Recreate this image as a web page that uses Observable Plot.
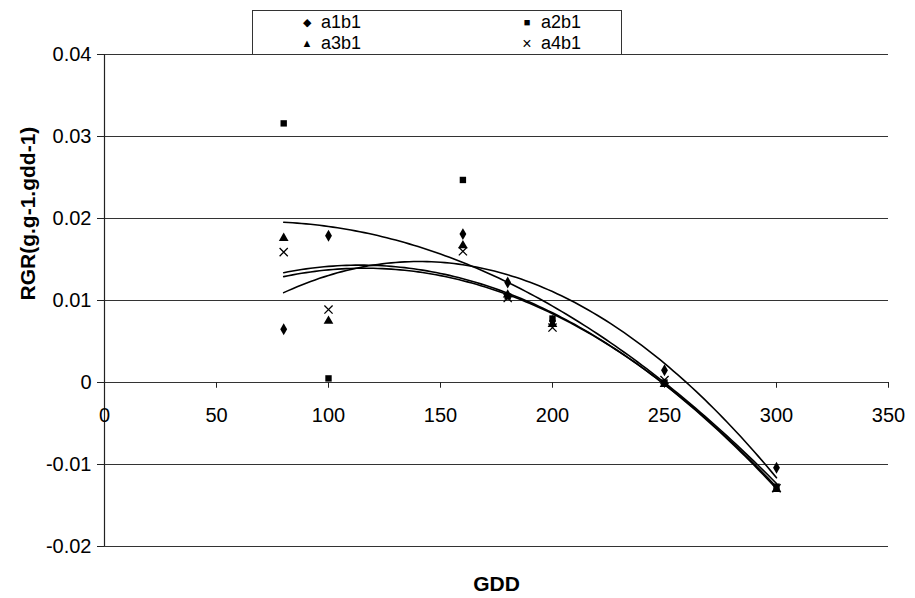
<!DOCTYPE html>
<html>
<head>
<meta charset="utf-8">
<script src="https://cdn.jsdelivr.net/npm/d3@7"></script>
<script src="https://cdn.jsdelivr.net/npm/@observablehq/plot@0.6"></script>
<style>
  html, body { margin: 0; padding: 0; background: #fff; }
  #wrap { position: relative; width: 915px; height: 598px; font-family: "Liberation Sans", Arial, sans-serif; }
  #legend { position: absolute; left: 252px; top: 10px; width: 370px; height: 45px; border: 1px solid #333; background: #fff; overflow: hidden; z-index: 2; box-sizing: border-box; }
  .item { position: absolute; font-size: 18px; line-height: 20px; height: 20px; color: #000; white-space: nowrap; }
  .sym { display: inline-block; width: 14px; text-align: center; font-size: 11px; margin-right: 7px; vertical-align: 2px; }
  svg { position: absolute; left: 0; top: 0; }
</style>
</head>
<body>
<div id="wrap"></div>
<script>
// Data
const gdd = [80, 100, 160, 180, 200, 250, 300];
const seriesNames = ["a1b1", "a2b1", "a3b1", "a4b1"];
const a1b1 = [0.0065, 0.0179, 0.0181, 0.0122, 0.0075, 0.0015, -0.0104];
const a2b1 = [0.0316, 0.0005, 0.0247, 0.0105, 0.0078, 0.0000, -0.0127];
const a3b1 = [0.0176, 0.0075, 0.0167, 0.0107, 0.0071, -0.0002, -0.0130];
const a4b1 = [0.0159, 0.0089, 0.0160, 0.0103, 0.0067, 0.0003, -0.0129];
const symbols = ["diamond", "square", "triangle", "times"];
const xTicks = [0, 50, 100, 150, 200, 250, 300, 350];
const yTicks = [-0.02, -0.01, 0, 0.01, 0.02, 0.03, 0.04];
const xLabel = "GDD";
const yLabel = "RGR(g.g-1.gdd-1)";

const allSeries = [a1b1, a2b1, a3b1, a4b1];
const points = [];
allSeries.forEach((vals, i) => vals.forEach((v, j) => points.push({series: seriesNames[i], x: gdd[j], y: v})));

// 2nd-order polynomial trendline (least squares), like the spreadsheet's trendline
function polyFit2(xs, ys) {
  let S = [0,0,0,0,0], T = [0,0,0];
  xs.forEach((x, k) => {
    for (let p = 0; p < 5; p++) S[p] += Math.pow(x, p);
    for (let p = 0; p < 3; p++) T[p] += Math.pow(x, p) * ys[k];
  });
  const A = [[S[0],S[1],S[2],T[0]],[S[1],S[2],S[3],T[1]],[S[2],S[3],S[4],T[2]]];
  for (let c = 0; c < 3; c++) {
    for (let r = c + 1; r < 3; r++) {
      const f = A[r][c] / A[c][c];
      for (let k = c; k < 4; k++) A[r][k] -= f * A[c][k];
    }
  }
  const b = [0,0,0];
  for (let r = 2; r >= 0; r--) {
    let s = A[r][3];
    for (let k = r + 1; k < 3; k++) s -= A[r][k] * b[k];
    b[r] = s / A[r][r];
  }
  return x => b[0] + b[1] * x + b[2] * x * x;
}
const trend = [];
allSeries.forEach((vals, i) => {
  const f = polyFit2(gdd, vals);
  const x0 = d3.min(gdd), x1 = d3.max(gdd);
  for (let k = 0; k <= 110; k++) {
    const x = x0 + (x1 - x0) * k / 110;
    trend.push({series: seriesNames[i], x, y: f(x)});
  }
});

const fmt = d => d === 0 ? "0" : d.toFixed(2);

const chart = Plot.plot({
  width: 915,
  height: 598,
  marginLeft: 104,
  marginRight: 27,
  marginTop: 54,
  marginBottom: 52,
  style: {fontFamily: "'Liberation Sans', Arial, sans-serif", color: "#000", background: "transparent"},
  x: {domain: [0, 350], axis: null},
  y: {domain: [-0.02, 0.04], axis: null},
  symbol: {domain: seriesNames, range: symbols},
  marks: [
    Plot.ruleY(yTicks, {stroke: "#333", strokeWidth: 1}),
    Plot.ruleX([0], {stroke: "#222", strokeWidth: 1.2}),
    Plot.axisY({ticks: yTicks, tickFormat: fmt, tickSize: 7, tickPadding: 6, fontSize: 20, label: null, stroke: "#222"}),
    Plot.ruleX(xTicks, {x: d => d, y1: 0, y2: -0.0007, stroke: "#222"}),
    Plot.text(xTicks, {x: d => d, y: 0, dy: 33, text: d => String(d), fontSize: 20, fill: "#000"}),
    Plot.line(trend, {x: "x", y: "y", z: "series", stroke: "#000", strokeWidth: 1.6, curve: "linear"}),
    Plot.dot(points.filter(d => d.series !== "a4b1"), {x: "x", y: "y", symbol: "series", fill: "#000", r: 3.6, stroke: "none"}),
    Plot.dot(points.filter(d => d.series === "a4b1"), {x: "x", y: "y", symbol: "series", stroke: "#000", fill: "none", r: 3.8, strokeWidth: 1.3}),
    Plot.text([yLabel], {frameAnchor: "left", dx: -76, rotate: -90, fontSize: 21, fontWeight: "bold", fill: "#000"}),
    Plot.text([xLabel], {frameAnchor: "bottom", dy: 44, fontSize: 21, fontWeight: "bold", fill: "#000"})
  ]
});

const wrap = document.getElementById("wrap");
wrap.appendChild(chart);

// Legend (HTML, above the SVG)
const glyphs = {"diamond": "\u25C6", "square": "\u25A0", "triangle": "\u25B2", "times": "\u00D7"};
const legend = document.createElement("div");
legend.id = "legend";
const pos = [[47, 1], [267, 1], [47, 22], [267, 22]];
seriesNames.forEach((name, i) => {
  const it = document.createElement("div");
  it.className = "item";
  it.style.left = pos[i][0] + "px";
  it.style.top = pos[i][1] + "px";
  const s = document.createElement("span");
  s.className = "sym";
  s.textContent = glyphs[symbols[i]];
  if (symbols[i] === "times") { s.style.fontSize = "16px"; s.style.verticalAlign = "0px"; }
  it.appendChild(s);
  it.appendChild(document.createTextNode(name));
  legend.appendChild(it);
});
wrap.appendChild(legend);
</script>
</body>
</html>
